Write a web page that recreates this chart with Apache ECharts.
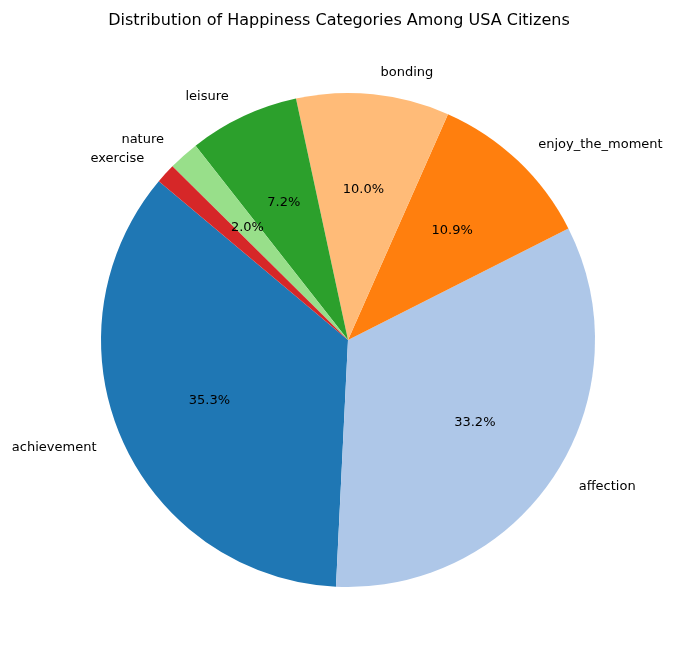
<!DOCTYPE html>
<html><head><meta charset="utf-8">
<script src="https://cdn.jsdelivr.net/npm/echarts@6/dist/echarts.min.js"></script>
<style>html,body{margin:0;padding:0;background:#fff}#c{width:678px;height:658px}</style>
</head><body><div id="c"></div>
<script>
const categories = ['achievement','affection','enjoy_the_moment','bonding','leisure','nature','exercise'];
const values = [35.3, 33.2, 10.9, 10.0, 7.2, 2.0, 1.3];
const colors = ['#1f77b4','#aec7e8','#ff7f0e','#ffbb78','#2ca02c','#98df8a','#d62728'];
const R = 247, C = [348, 340];
const data = categories.map((n,i)=>({name:n, value:values[i], itemStyle:{color:colors[i]}}));
const chart = echarts.init(document.getElementById('c'));
chart.setOption({
  animation:false,
  title:{text:'Distribution of Happiness Categories Among USA Citizens',left:'center',top:8,
    textStyle:{fontFamily:'DejaVu Sans',fontSize:16,fontWeight:'normal',color:'#000'}},
  series:[
    {type:'pie',center:C,radius:[0,R],startAngle:140,clockwise:false,data:data,
     label:{show:true,position:'outside',fontFamily:'DejaVu Sans',fontSize:13,color:'#000',formatter:'{b}'},
     labelLine:{show:false,length:22,length2:0},avoidLabelOverlap:false,emphasis:{disabled:true}},
    {type:'pie',center:C,radius:[0,R*1.2],startAngle:140,clockwise:false,silent:true,z:3,
     data:categories.map((n,i)=>({name:n,value:values[i],itemStyle:{color:'transparent'}})),
     label:{show:true,position:'inside',fontFamily:'DejaVu Sans',fontSize:13,color:'#000',
       formatter:p=>p.value.toFixed(1)+'%'},labelLine:{show:false},avoidLabelOverlap:false}
  ]
});
</script></body></html>
